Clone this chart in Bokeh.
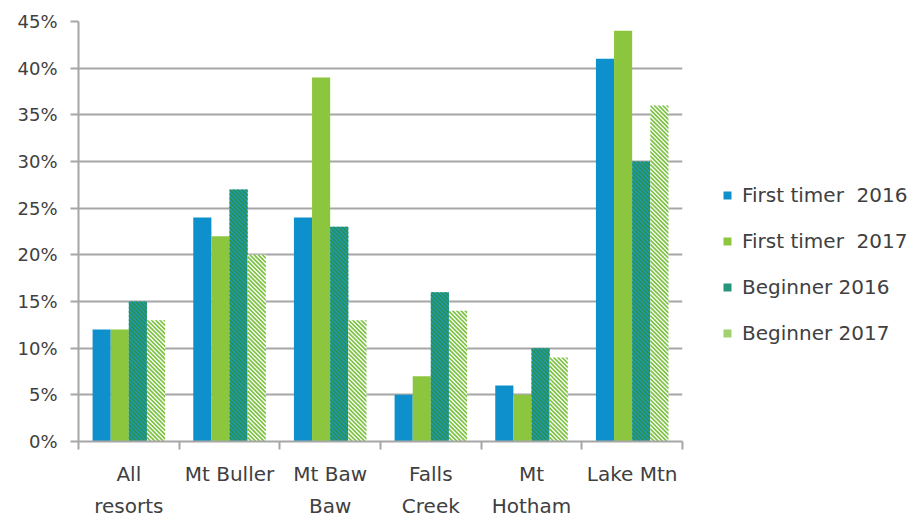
from bokeh.plotting import figure
from bokeh.models import FixedTicker, Legend, LegendItem, NumeralTickFormatter, Range1d
from bokeh.embed import file_html
from bokeh.resources import INLINE

# Survey share by resort
resorts = ["All\nresorts", "Mt Buller", "Mt Baw\nBaw", "Falls\nCreek", "Mt\nHotham", "Lake Mtn"]
first_timer_2016 = [0.12, 0.24, 0.24, 0.05, 0.06, 0.41]
first_timer_2017 = [0.12, 0.22, 0.39, 0.07, 0.05, 0.44]
beginner_2016 = [0.15, 0.27, 0.23, 0.16, 0.10, 0.30]
beginner_2017 = [0.13, 0.20, 0.13, 0.14, 0.09, 0.36]
series_names = ["First timer  2016", "First timer  2017", "Beginner 2016", "Beginner 2017"]
y_ticks = [0, 0.05, 0.10, 0.15, 0.20, 0.25, 0.30, 0.35, 0.40, 0.45]

FONT = "DejaVu Sans"
TEXT = "#404040"
GRID = "#a6a6a6"

FRAME_W, FRAME_H = 604, 420
Y_MAX = 0.45
n = len(resorts)

p = figure(frame_width=FRAME_W, frame_height=FRAME_H, output_backend="svg",
           toolbar_location=None,
           x_range=Range1d(0, n), y_range=Range1d(0, Y_MAX),
           min_border_left=78, min_border_top=21, min_border_bottom=78,
           min_border_right=0)
p.outline_line_color = None
p.background_fill_color = "white"
p.border_fill_color = "white"

centers = [i + 0.5 for i in range(n)]
bw = 0.18
offsets = [-0.27, -0.09, 0.09, 0.27]

# pixel scale of the frame, used to lay stripes at 45 degrees on screen
px_x = FRAME_W / n
px_y = FRAME_H / Y_MAX


def clip(poly, b, keep_ge):
    """Clip a polygon against the half-plane X+Y >= b (or X+Y <= b)."""
    out = []
    m = len(poly)
    for i in range(m):
        P, Q = poly[i], poly[(i + 1) % m]
        fp, fq = P[0] + P[1] - b, Q[0] + Q[1] - b
        inp = fp >= 0 if keep_ge else fp <= 0
        inq = fq >= 0 if keep_ge else fq <= 0
        if inp:
            out.append(P)
        if inp != inq:
            t = fp / (fp - fq)
            out.append((P[0] + t * (Q[0] - P[0]), P[1] + t * (Q[1] - P[1])))
    return out


def stripes(xc, top, period=4.2, band=2.1):
    """Diagonal bands (top-left to bottom-right) covering one bar."""
    W = bw * px_x
    H = top * px_y
    x0 = xc - bw / 2
    xs, ys = [], []
    c = -W
    while c < W + H:
        poly = clip([(0, 0), (W, 0), (W, H), (0, H)], c, True)
        if poly:
            poly = clip(poly, c + band, False)
        if len(poly) >= 3:
            xs.append([x0 + X / px_x for X, Y in poly])
            ys.append([Y / px_y for X, Y in poly])
        c += period
    return xs, ys


styles = [
    dict(fill="#0e90cc", stripe=None, band=0, key="#0e90cc"),
    dict(fill="#8cc63f", stripe=None, band=0, key="#8cc63f"),
    dict(fill="#1c9bb0", stripe="#2e8f4c", band=2.1, key="#26957c"),
    dict(fill="#ffffff", stripe="#7dc243", band=2.4, key="#a0d16c"),
]
values = [first_timer_2016, first_timer_2017, beginner_2016, beginner_2017]

items = []
for name, vals, off, st in zip(series_names, values, offsets, styles):
    xs = [c + off for c in centers]
    p.vbar(x=xs, top=vals, width=bw, bottom=0, line_color=None, fill_color=st["fill"])
    if st["stripe"]:
        sx, sy = [], []
        for x, v in zip(xs, vals):
            a, b = stripes(x, v, band=st["band"])
            sx += a
            sy += b
        p.patches(xs=sx, ys=sy, fill_color=st["stripe"], line_color=None)
    # zero-height key swatch for the legend
    key = p.vbar(x=[centers[0]], top=[0], bottom=[0], width=bw, line_color=None,
                 fill_color=st["key"])
    items.append(LegendItem(label=name, renderers=[key]))

# Axes
p.xgrid.visible = False
p.ygrid.grid_line_color = GRID
p.ygrid.grid_line_width = 2
p.ygrid.ticker = FixedTicker(ticks=y_ticks)
p.ygrid.level = "underlay"

p.yaxis.ticker = FixedTicker(ticks=y_ticks)
p.yaxis.formatter = NumeralTickFormatter(format="0%")
p.yaxis.axis_line_color = GRID
p.yaxis.axis_line_width = 2
p.yaxis.major_tick_line_color = GRID
p.yaxis.major_tick_line_width = 2
p.yaxis.major_tick_out = 8
p.yaxis.major_tick_in = 0
p.yaxis.minor_tick_line_color = None
p.yaxis.major_label_standoff = 13
p.yaxis.major_label_text_font_size = "18px"

p.xaxis.ticker = FixedTicker(ticks=centers, minor_ticks=list(range(n + 1)))
p.xaxis.major_label_overrides = {c: lab for c, lab in zip(centers, resorts)}
p.xaxis.axis_line_color = GRID
p.xaxis.axis_line_width = 2
p.xaxis.major_tick_line_color = None
p.xaxis.minor_tick_line_color = GRID
p.xaxis.minor_tick_line_width = 2
p.xaxis.minor_tick_out = 8
p.xaxis.minor_tick_in = 0
p.xaxis.major_label_standoff = 12
p.xaxis.major_label_text_font_size = "20px"
p.xaxis.major_label_text_line_height = 1.35

for ax in (p.xaxis, p.yaxis):
    ax.major_label_text_font = FONT
    ax.major_label_text_color = TEXT

legend = Legend(items=items, location=(40, 96),
                label_text_font=FONT, label_text_font_size="20px",
                label_text_color=TEXT, glyph_width=10, glyph_height=10,
                label_standoff=10, spacing=22, border_line_color=None,
                background_fill_alpha=0, margin=0, padding=0)
p.add_layout(legend, "right")

open("out.html", "w").write(file_html(p, INLINE))
